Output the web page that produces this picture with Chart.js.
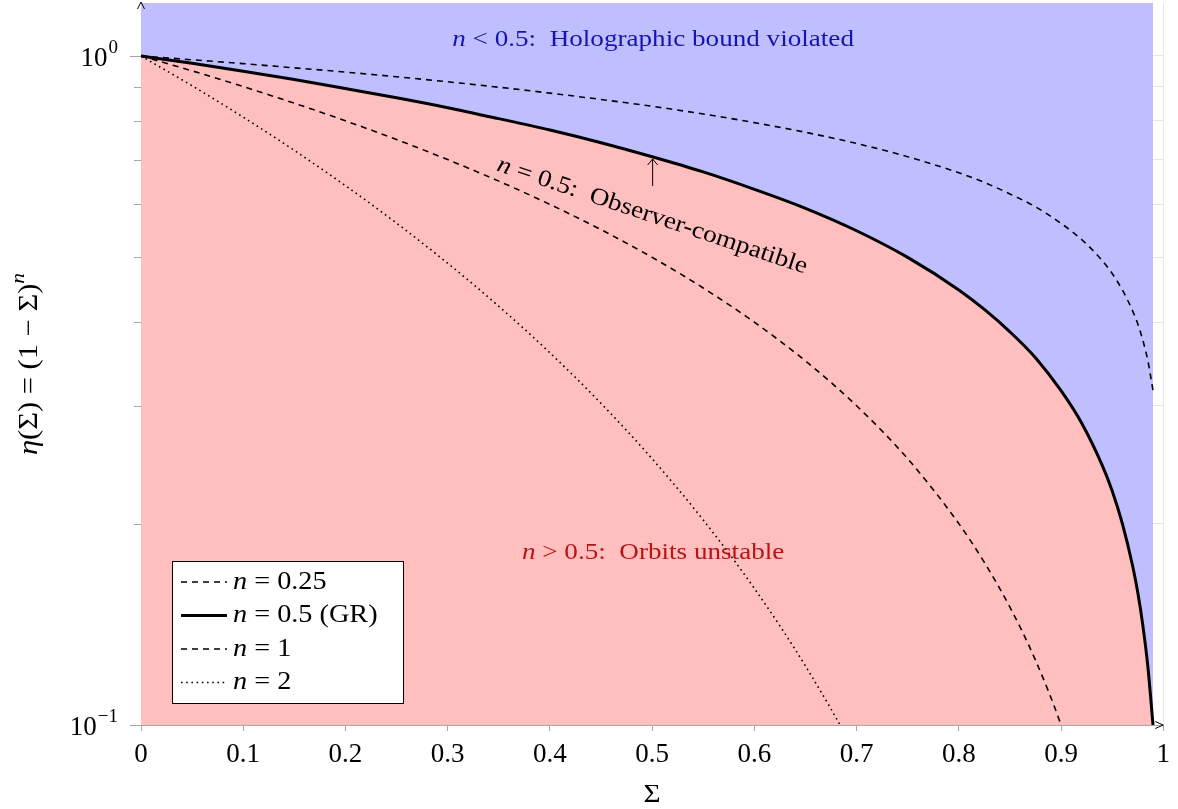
<!DOCTYPE html>
<html>
<head>
<meta charset="utf-8">
<script src="https://cdn.jsdelivr.net/npm/chart.js@4.4.1/dist/chart.umd.min.js"></script>
<style>
  html, body { margin: 0; padding: 0; background: #fff; }
  #wrap { width: 1178px; height: 809px; }
</style>
</head>
<body>
<div id="wrap"><canvas id="etaChart" width="1178" height="809"></canvas></div>
<script>
// Sigma sample points and eta values
const sigma = [0, 0.05, 0.1, 0.15, 0.2, 0.25, 0.3, 0.35, 0.4, 0.45, 0.5, 0.55, 0.6, 0.65, 0.7, 0.75, 0.8, 0.825, 0.85, 0.875, 0.9, 0.92, 0.94, 0.95, 0.96, 0.97, 0.975, 0.98, 0.985, 0.99];
const etaQuarter = [1, 0.987, 0.974, 0.960, 0.946, 0.931, 0.915, 0.898, 0.880, 0.861, 0.841, 0.819, 0.795, 0.769, 0.740, 0.707, 0.669, 0.647, 0.622, 0.595, 0.562, 0.532, 0.495, 0.473, 0.447, 0.416, 0.398, 0.376, 0.350, 0.316];
const etaHalf = [1, 0.975, 0.949, 0.922, 0.894, 0.866, 0.837, 0.806, 0.775, 0.742, 0.707, 0.671, 0.632, 0.592, 0.548, 0.5, 0.447, 0.418, 0.387, 0.354, 0.316, 0.283, 0.245, 0.224, 0.2, 0.173, 0.158, 0.141, 0.122, 0.1];
const etaOne = [1, 0.95, 0.9, 0.85, 0.8, 0.75, 0.7, 0.65, 0.6, 0.55, 0.5, 0.45, 0.4, 0.35, 0.3, 0.25, 0.2, 0.175, 0.15, 0.125, 0.1, 0.08, 0.06, 0.05, 0.04, 0.03, 0.025, 0.02, 0.015, 0.01];
const etaTwo = [1, 0.9025, 0.81, 0.7225, 0.64, 0.5625, 0.49, 0.4225, 0.36, 0.3025, 0.25, 0.2025, 0.16, 0.1225, 0.09, 0.0625, 0.04, 0.0306, 0.0225, 0.0156, 0.01, 0.0064, 0.0036, 0.0025, 0.0016, 0.0009, 0.000625, 0.0004, 0.000225, 0.0001];

const xTicks = [0, 0.1, 0.2, 0.3, 0.4, 0.5, 0.6, 0.7, 0.8, 0.9, 1];
const yTicks = [0.1, 0.2, 0.3, 0.4, 0.5, 0.6, 0.7, 0.8, 0.9, 1];
const yMajor = [{ value: 1, exp: '0' }, { value: 0.1, exp: '\u22121' }];

const SERIF = "'Liberation Serif', 'DejaVu Serif', serif";
const AXIS_GREY = '#a6a6a6';
const STRETCH = 1.13;

function pts(ys) {
    return sigma.map((s, i) => ({ x: s, y: ys[i] }));
}

function runFont(r, size) {
    return (r.it ? 'italic ' : '') + (r.sup ? Math.round(size * 0.7) : size) + 'px ' + SERIF;
}

// draw a run of text pieces (italic / superscript), stretched a bit to mimic the wider TeX font
function drawRuns(ctx, runs, x, y, size, align) {
    const widths = runs.map(r => {
        ctx.font = runFont(r, size);
        return ctx.measureText(r.t).width;
    });
    const total = widths.reduce((a, b) => a + b, 0) * STRETCH;
    let cx = align === 'center' ? x - total / 2 : align === 'right' ? x - total : x;
    ctx.save();
    ctx.translate(cx, y);
    ctx.scale(STRETCH, 1);
    ctx.textAlign = 'left';
    let off = 0;
    runs.forEach((r, i) => {
        ctx.font = runFont(r, size);
        ctx.fillText(r.t, off, r.sup ? -size * 0.4 : 0);
        off += widths[i];
    });
    ctx.restore();
}

const decorations = {
    id: 'decorations',
    afterDraw(chart) {
        const ctx = chart.ctx;
        const area = chart.chartArea;
        const xs = chart.scales.x;
        const ys = chart.scales.y;
        ctx.save();
        ctx.textBaseline = 'middle';

        // y tick marks
        ctx.strokeStyle = AXIS_GREY;
        ctx.lineWidth = 1;
        yTicks.forEach(v => {
            const py = Math.round(ys.getPixelForValue(v)) + 0.5;
            const len = (v === 1 || v === 0.1) ? 11 : 7;
            ctx.beginPath();
            ctx.moveTo(area.left - len, py);
            ctx.lineTo(area.left, py);
            ctx.stroke();
        });

        // y major labels 10^0, 10^-1
        ctx.fillStyle = '#000';
        yMajor.forEach(m => {
            const py = ys.getPixelForValue(m.value);
            ctx.font = '19px ' + SERIF;
            ctx.textAlign = 'right';
            ctx.fillText(m.exp, 118, py - 8);
            const ew = ctx.measureText(m.exp).width;
            ctx.font = '27px ' + SERIF;
            ctx.fillText('10', 118 - ew - 1, py + 3);
        });

        // axis arrows
        ctx.strokeStyle = '#000';
        ctx.lineWidth = 1;
        ctx.beginPath();
        ctx.moveTo(area.left - 3.5, area.top + 6);
        ctx.lineTo(area.left, area.top - 1);
        ctx.lineTo(area.left + 3.5, area.top + 6);
        ctx.stroke();
        ctx.beginPath();
        ctx.moveTo(area.right - 8, area.bottom - 3.5);
        ctx.lineTo(area.right, area.bottom);
        ctx.lineTo(area.right - 8, area.bottom + 3.5);
        ctx.stroke();

        // axis titles
        ctx.fillStyle = '#000';
        drawRuns(ctx, [{ t: '\u03A3' }], xs.getPixelForValue(0.5), 795, 26, 'center');
        ctx.save();
        ctx.translate(30, (area.top + area.bottom) / 2);
        ctx.rotate(-Math.PI / 2);
        drawRuns(ctx, [
            { t: '\u03B7', it: true }, { t: '(\u03A3) = (1 \u2212 \u03A3)' }, { t: 'n', it: true, sup: true }
        ], 0, 0, 27, 'center');
        ctx.restore();

        // region annotations
        const cx = xs.getPixelForValue(0.5);
        ctx.fillStyle = '#1414b0';
        drawRuns(ctx, [{ t: 'n', it: true }, { t: ' < 0.5:  Holographic bound violated' }], cx + 1, 40, 24, 'center');
        ctx.fillStyle = '#b81414';
        drawRuns(ctx, [{ t: 'n', it: true }, { t: ' > 0.5:  Orbits unstable' }], cx + 1, 553, 24, 'center');

        ctx.fillStyle = '#000';
        ctx.save();
        ctx.translate(cx, 216);
        ctx.rotate(18.5 * Math.PI / 180);
        drawRuns(ctx, [{ t: 'n', it: true }, { t: ' = 0.5:  Observer-compatible' }], 0, 0, 24, 'center');
        ctx.restore();

        // small arrow pointing at the GR curve
        ctx.strokeStyle = '#000';
        ctx.lineWidth = 1;
        ctx.beginPath();
        ctx.moveTo(cx + 0.5, 186);
        ctx.lineTo(cx + 0.5, 159);
        ctx.moveTo(cx - 4.5, 165);
        ctx.lineTo(cx + 0.5, 159);
        ctx.lineTo(cx + 5.5, 165);
        ctx.stroke();

        // legend box
        const lx = 172, ly = 561, lw = 231, lh = 142;
        ctx.fillStyle = '#fff';
        ctx.fillRect(lx, ly, lw, lh);
        ctx.strokeStyle = '#000';
        ctx.lineWidth = 1;
        ctx.strokeRect(lx + 0.5, ly + 0.5, lw, lh);
        const rows = [
            { ds: 0, runs: [{ t: 'n', it: true }, { t: ' = 0.25' }] },
            { ds: 1, runs: [{ t: 'n', it: true }, { t: ' = 0.5 (GR)' }] },
            { ds: 2, runs: [{ t: 'n', it: true }, { t: ' = 1' }] },
            { ds: 3, runs: [{ t: 'n', it: true }, { t: ' = 2' }] }
        ];
        rows.forEach((r, i) => {
            const ds = chart.data.datasets[r.ds];
            const ry = 582 + i * 33.5;
            ctx.save();
            ctx.strokeStyle = '#000';
            ctx.lineWidth = ds.borderWidth;
            ctx.setLineDash(ds.borderDash || []);
            ctx.beginPath();
            ctx.moveTo(181, ry);
            ctx.lineTo(227, ry);
            ctx.stroke();
            ctx.restore();
            ctx.fillStyle = '#000';
            drawRuns(ctx, r.runs, 233, ry, 25, 'left');
        });

        ctx.restore();
    }
};

const ctx = document.getElementById('etaChart').getContext('2d');
new Chart(ctx, {
    type: 'line',
    data: {
        datasets: [{
            label: 'n = 0.25',
            data: pts(etaQuarter),
            borderColor: '#000',
            borderWidth: 1.6,
            borderDash: [6, 5],
            pointRadius: 0,
            cubicInterpolationMode: 'monotone',
            fill: false
        }, {
            label: 'n = 0.5 (GR)',
            data: pts(etaHalf),
            borderColor: '#000',
            borderWidth: 3,
            pointRadius: 0,
            cubicInterpolationMode: 'monotone',
            backgroundColor: '#ffbfbf',
            fill: 'start'
        }, {
            label: 'n = 1',
            data: pts(etaOne),
            borderColor: '#000',
            borderWidth: 1.6,
            borderDash: [6, 5],
            pointRadius: 0,
            cubicInterpolationMode: 'monotone',
            fill: false
        }, {
            label: 'n = 2',
            data: pts(etaTwo),
            borderColor: '#000',
            borderWidth: 1.6,
            borderDash: [1.6, 3.6],
            pointRadius: 0,
            cubicInterpolationMode: 'monotone',
            fill: false
        }, {
            label: 'violated region',
            data: pts(etaHalf),
            borderWidth: 0,
            borderColor: 'rgba(0,0,0,0)',
            pointRadius: 0,
            cubicInterpolationMode: 'monotone',
            backgroundColor: '#bfbfff',
            fill: 'end'
        }]
    },
    options: {
        responsive: false,
        animation: false,
        layout: { padding: { top: 3, right: 13, left: 0, bottom: 0 } },
        plugins: {
            legend: { display: false },
            tooltip: { enabled: false },
            filler: { drawTime: 'beforeDatasetsDraw' }
        },
        scales: {
            x: {
                type: 'linear',
                min: 0,
                max: 1,
                afterBuildTicks: scale => { scale.ticks = xTicks.map(v => ({ value: v })); },
                afterFit: scale => { scale.height = 84; },
                grid: { color: '#e6e6e6', tickColor: AXIS_GREY, tickLength: 6 },
                border: { color: AXIS_GREY },
                ticks: {
                    color: '#000',
                    padding: 8,
                    maxRotation: 0,
                    font: { family: SERIF, size: 27 },
                    callback: v => String(Math.round(v * 10) / 10)
                }
            },
            y: {
                type: 'logarithmic',
                min: 0.1,
                max: 1.2,
                afterBuildTicks: scale => { scale.ticks = yTicks.map(v => ({ value: v })); },
                afterFit: scale => { scale.width = 141; },
                grid: { color: '#e6e6e6', drawTicks: false },
                border: { color: AXIS_GREY },
                ticks: { display: false }
            }
        }
    },
    plugins: [decorations]
});
</script>
</body>
</html>
